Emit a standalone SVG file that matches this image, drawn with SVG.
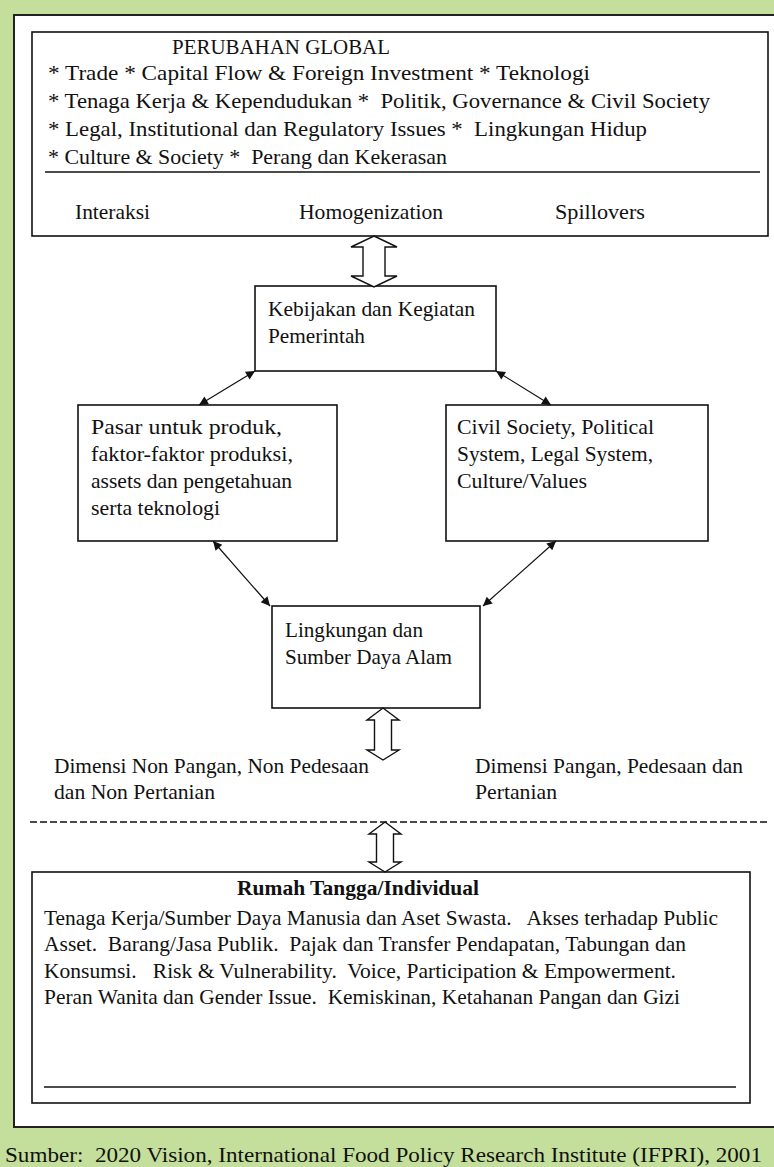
<svg xmlns="http://www.w3.org/2000/svg" width="774" height="1167" viewBox="0 0 774 1167">
<style>
text{font-family:"Liberation Serif","Times New Roman",serif;font-size:21px;fill:#111}
.b{font-weight:bold}
.box{fill:#fff;stroke:#111;stroke-width:1.6}
.dbl{fill:#fff;stroke:#111;stroke-width:1.4;stroke-linejoin:miter}
.con{stroke:#111;stroke-width:1.2;fill:none;marker-start:url(#ah);marker-end:url(#ah)}
.rule{stroke:#111;stroke-width:1.6}
</style>
<defs>
<marker id="ah" viewBox="0 0 10 10" refX="10" refY="5" markerWidth="11" markerHeight="9" markerUnits="userSpaceOnUse" orient="auto-start-reverse">
<path d="M0,0 L10,5 L0,10 Z" fill="#111"/>
</marker>
</defs>
<rect x="0" y="0" width="774" height="1167" fill="#c4df9b"/>
<rect id="frame" x="14" y="15" width="770" height="1112" fill="#fff" stroke="#222" stroke-width="2"/>

<g id="global">
<rect class="box" x="32" y="32" width="736" height="204"/>
<text x="172" y="54" textLength="218" lengthAdjust="spacingAndGlyphs">PERUBAHAN GLOBAL</text>
<text x="48" y="80" textLength="542" lengthAdjust="spacingAndGlyphs">* Trade * Capital Flow &amp; Foreign Investment * Teknologi</text>
<text x="48" y="108" xml:space="preserve" textLength="662" lengthAdjust="spacingAndGlyphs">* Tenaga Kerja &amp; Kependudukan *  Politik, Governance &amp; Civil Society</text>
<text x="48" y="136" xml:space="preserve" textLength="599" lengthAdjust="spacingAndGlyphs">* Legal, Institutional dan Regulatory Issues *  Lingkungan Hidup</text>
<text x="48" y="164" xml:space="preserve" textLength="399" lengthAdjust="spacingAndGlyphs">* Culture &amp; Society *  Perang dan Kekerasan</text>
<line class="rule" x1="45" y1="172" x2="760" y2="172"/>
<text x="75" y="219" textLength="75" lengthAdjust="spacingAndGlyphs">Interaksi</text>
<text x="299" y="219" textLength="144" lengthAdjust="spacingAndGlyphs">Homogenization</text>
<text x="555" y="219" textLength="90" lengthAdjust="spacingAndGlyphs">Spillovers</text>
</g>

<g id="kebijakan">
<rect class="box" x="255" y="286" width="241" height="85"/>
<text x="268" y="316" textLength="207" lengthAdjust="spacingAndGlyphs">Kebijakan dan Kegiatan</text>
<text x="268" y="343" textLength="97" lengthAdjust="spacingAndGlyphs">Pemerintah</text>
</g>

<g id="pasar">
<rect class="box" x="78" y="405" width="259" height="136"/>
<text x="91" y="434" textLength="191" lengthAdjust="spacingAndGlyphs">Pasar untuk produk,</text>
<text x="91" y="461" textLength="202" lengthAdjust="spacingAndGlyphs">faktor-faktor produksi,</text>
<text x="91" y="488" textLength="201" lengthAdjust="spacingAndGlyphs">assets dan pengetahuan</text>
<text x="91" y="515" textLength="129" lengthAdjust="spacingAndGlyphs">serta teknologi</text>
</g>

<g id="civil">
<rect class="box" x="446" y="405" width="262" height="136"/>
<text x="457" y="434" textLength="197" lengthAdjust="spacingAndGlyphs">Civil Society, Political</text>
<text x="457" y="461" textLength="196" lengthAdjust="spacingAndGlyphs">System, Legal System,</text>
<text x="457" y="488" textLength="130" lengthAdjust="spacingAndGlyphs">Culture/Values</text>
</g>

<g id="lingkungan">
<rect class="box" x="272" y="606" width="208" height="102"/>
<text x="285" y="637" textLength="138" lengthAdjust="spacingAndGlyphs">Lingkungan dan</text>
<text x="285" y="664" textLength="167" lengthAdjust="spacingAndGlyphs">Sumber Daya Alam</text>
</g>

<g id="dimensi">
<text x="54" y="773" textLength="315" lengthAdjust="spacingAndGlyphs">Dimensi Non Pangan, Non Pedesaan</text>
<text x="54" y="799" textLength="161" lengthAdjust="spacingAndGlyphs">dan Non Pertanian</text>
<text x="475" y="773" textLength="268" lengthAdjust="spacingAndGlyphs">Dimensi Pangan, Pedesaan dan</text>
<text x="475" y="799" textLength="82" lengthAdjust="spacingAndGlyphs">Pertanian</text>
<line x1="30" y1="822" x2="768" y2="822" stroke="#111" stroke-width="1.4" stroke-dasharray="7,3"/>
</g>

<g id="rumah">
<rect class="box" x="32" y="872" width="718" height="231"/>
<text class="b" x="237" y="895" textLength="242" lengthAdjust="spacingAndGlyphs">Rumah Tangga/Individual</text>
<text x="44" y="925" xml:space="preserve" textLength="674" lengthAdjust="spacingAndGlyphs">Tenaga Kerja/Sumber Daya Manusia dan Aset Swasta.   Akses terhadap Public</text>
<text x="44" y="951" xml:space="preserve" textLength="642" lengthAdjust="spacingAndGlyphs">Asset.  Barang/Jasa Publik.  Pajak dan Transfer Pendapatan, Tabungan dan</text>
<text x="44" y="978" xml:space="preserve" textLength="632" lengthAdjust="spacingAndGlyphs">Konsumsi.   Risk &amp; Vulnerability.  Voice, Participation &amp; Empowerment.</text>
<text x="44" y="1004" xml:space="preserve" textLength="636" lengthAdjust="spacingAndGlyphs">Peran Wanita dan Gender Issue.  Kemiskinan, Ketahanan Pangan dan Gizi</text>
<line class="rule" x1="44" y1="1087" x2="736" y2="1087"/>
</g>

<g id="connectors">
<polygon class="dbl" points="374,236 397,247 385,247 385,276 397,276 374,287 351,276 363,276 363,247 351,247"/>
<polygon class="dbl" points="383,708 399,720 391.5,720 391.5,750 399,750 383,760 367,750 374.5,750 374.5,720 367,720"/>
<polygon class="dbl" points="385,822 401,834 393.5,834 393.5,862 401,862 385,872 369,862 376.5,862 376.5,834 369,834"/>
<line class="con" x1="255" y1="371" x2="199" y2="405"/>
<line class="con" x1="496" y1="371" x2="551" y2="405"/>
<line class="con" x1="213" y1="541" x2="270" y2="606"/>
<line class="con" x1="556" y1="541" x2="483" y2="606"/>
</g>

<text id="source" x="5" y="1162" style="font-size:22px" xml:space="preserve" textLength="757" lengthAdjust="spacingAndGlyphs">Sumber:  2020 Vision, International Food Policy Research Institute (IFPRI), 2001</text>
</svg>
